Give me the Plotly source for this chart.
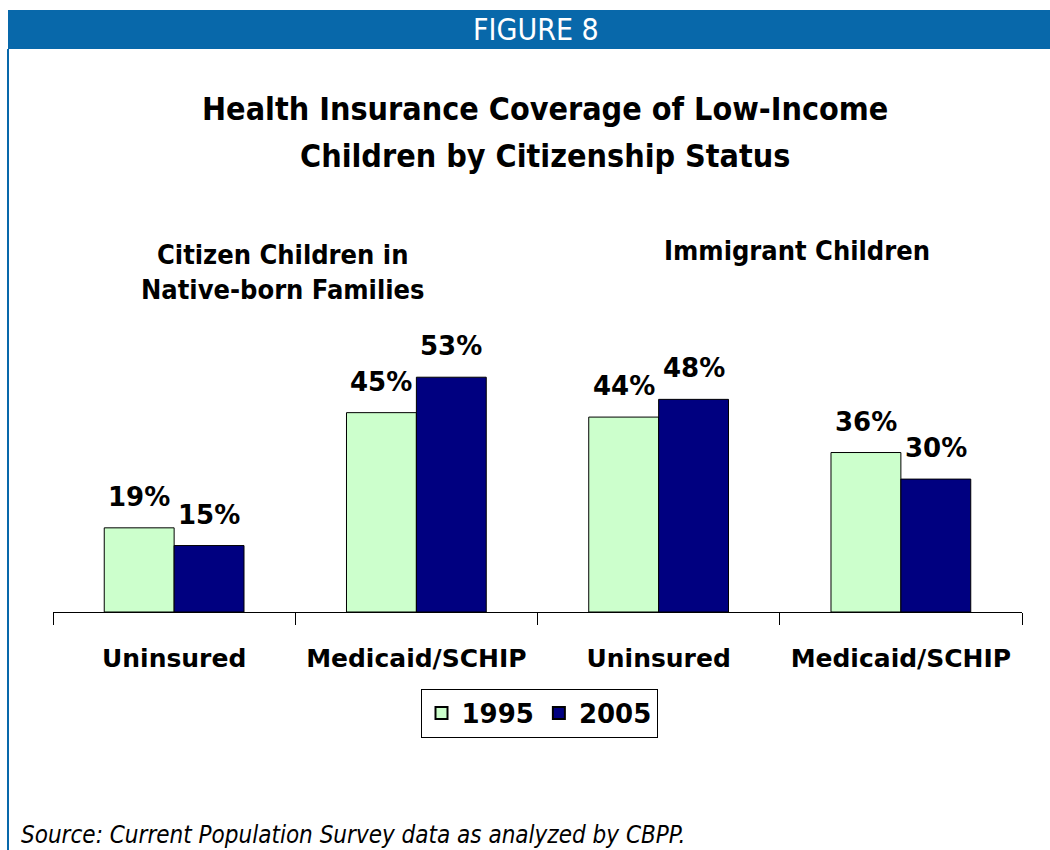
import plotly.graph_objects as go

categories = ["Uninsured", "Medicaid/SCHIP", "Uninsured", "Medicaid/SCHIP"]
cat_pos = [0, 1, 2, 3]
values_1995 = [19, 45, 44, 36]
values_2005 = [15, 53, 48, 30]
series_names = ["1995", "2005"]
title_lines = ["Health Insurance Coverage of Low-Income", "Children by Citizenship Status"]
group_titles = ["Citizen Children in<br>Native-born Families", "Immigrant Children"]

W, H = 1050, 850
L, R, B, T = 53, 28, 238, 300
PW = W - L - R
PH = H - T - B
BAR_PX = 70

def xp(px):
    return (px - L) / PW

def yp(py):
    return (H - B - py) / PH

bold = "DejaVu Sans"
narrow = "DejaVu Sans Condensed, Liberation Sans Narrow, sans-serif"

fig = go.Figure()
fig.add_trace(go.Bar(
    x=cat_pos, y=values_1995, name=series_names[0],
    marker=dict(color="#CCFFCC", line=dict(color="black", width=1)),
))
fig.add_trace(go.Bar(
    x=cat_pos, y=values_2005, name=series_names[1],
    marker=dict(color="#000080", line=dict(color="black", width=1)),
))

fig.update_layout(
    width=W, height=H,
    margin=dict(l=L, r=R, t=T, b=B, pad=0),
    paper_bgcolor="white", plot_bgcolor="white",
    barmode="group", bargap=0.423, bargroupgap=0,
    showlegend=True,
    legend=dict(
        orientation="h", x=xp(539), y=yp(713), xanchor="center", yanchor="middle",
        bordercolor="black", borderwidth=1, bgcolor="white",
        font=dict(family=bold, size=26, color="black", weight="bold"),
        itemsizing="constant", tracegroupgap=0,
    ),
    xaxis=dict(
        range=[-0.5, 3.5], tickvals=cat_pos, ticktext=categories,
        ticks="", showline=True, linecolor="black", linewidth=1,
        showgrid=False, zeroline=False,
        tickfont=dict(family=bold, size=25, color="black", weight="bold"),
        ticklabelstandoff=24,
        minor=dict(tickvals=[-0.5, 0.5, 1.5, 2.5, 3.5], ticks="outside",
                   ticklen=12, tickcolor="black", tickwidth=1, showgrid=False),
        fixedrange=True,
    ),
    yaxis=dict(range=[0, PH / 4.43], visible=False, fixedrange=True),
    shapes=[
        dict(type="rect", xref="paper", yref="paper",
             x0=xp(8), x1=xp(1050), y0=yp(49), y1=yp(10),
             fillcolor="#0868AA", line=dict(width=0), layer="below"),
        dict(type="line", xref="paper", yref="paper",
             x0=xp(8), x1=xp(8), y0=yp(49), y1=yp(850),
             line=dict(color="#0868AA", width=2)),
    ],
)

ann = []
# value labels above bars
for vals, shift in ((values_1995, -BAR_PX / 2), (values_2005, BAR_PX / 2)):
    for xc, v in zip(cat_pos, vals):
        ann.append(dict(text=f"{v}%", x=xc, y=v, xref="x", yref="y",
                        xshift=shift, yshift=14, xanchor="center", yanchor="bottom",
                        showarrow=False,
                        font=dict(family=bold, size=26, color="black", weight="bold")))
ann.append(dict(text="FIGURE 8", x=xp(536), y=yp(29), xref="paper", yref="paper",
                xanchor="center", yanchor="middle", showarrow=False,
                font=dict(family=narrow, size=30, color="white")))
for line, ypos in zip(title_lines, (109, 156)):
    ann.append(dict(text=line, x=xp(545), y=yp(ypos), xref="paper", yref="paper",
                    xanchor="center", yanchor="middle", showarrow=False,
                    font=dict(family=narrow, size=32, color="black", weight="bold")))
ann.append(dict(text=group_titles[0], x=xp(282), y=yp(272), xref="paper", yref="paper",
                xanchor="center", yanchor="middle", showarrow=False,
                font=dict(family=narrow, size=27, color="black", weight="bold")))
ann.append(dict(text=group_titles[1], x=xp(797), y=yp(251), xref="paper", yref="paper",
                xanchor="center", yanchor="middle", showarrow=False,
                font=dict(family=narrow, size=27, color="black", weight="bold")))
ann.append(dict(text="<i>Source: Current Population Survey data as analyzed by CBPP.</i>",
                x=xp(19), y=yp(835), xref="paper", yref="paper",
                xanchor="left", yanchor="middle", showarrow=False,
                font=dict(family=narrow, size=24, color="black")))
fig.update_layout(annotations=ann)

fig.write_html("out.html", config={"displayModeBar": False},
               post_script="document.body.style.margin='0';")
